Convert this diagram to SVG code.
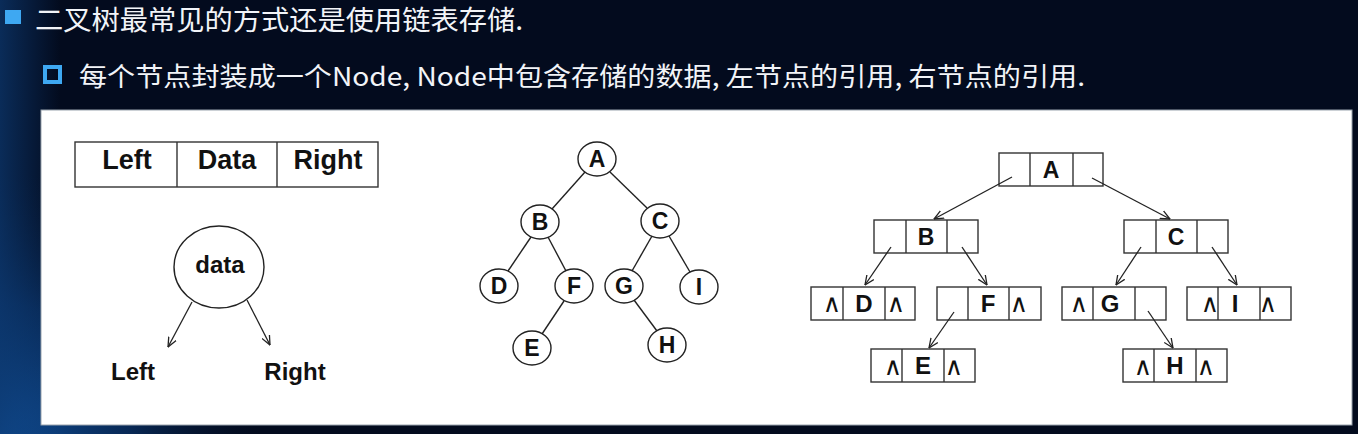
<svg xmlns="http://www.w3.org/2000/svg" width="1358" height="434" viewBox="0 0 1358 434">
<defs>
<radialGradient id="bgl" cx="0" cy="434" r="260" gradientUnits="userSpaceOnUse">
<stop offset="0" stop-color="#1258a8" stop-opacity="0.9"/>
<stop offset="0.5" stop-color="#0b3c7a" stop-opacity="0.6"/>
<stop offset="1" stop-color="#061a3a" stop-opacity="0"/>
</radialGradient>
<linearGradient id="bgs" x1="0" y1="0" x2="1" y2="0">
<stop offset="0" stop-color="#0d3a72" stop-opacity="0.7"/>
<stop offset="1" stop-color="#0d3a72" stop-opacity="0"/>
</linearGradient>
<marker id="ah" viewBox="0 0 10 10" refX="9.5" refY="5" markerWidth="10" markerHeight="10" markerUnits="userSpaceOnUse" orient="auto">
<path d="M0,0.8 L9.5,5 L0,9.2" fill="none" stroke="#222" stroke-width="1.3"/>
</marker>
</defs>
<style>
.hd{font-family:"Noto Sans CJK SC","Noto Sans",sans-serif;fill:#f2f4f8}
.b{font-family:"Liberation Sans",Arial,sans-serif;font-weight:bold;fill:#111}
.c{fill:#fff;stroke:#222;stroke-width:1.4}
.bx{fill:#fff;stroke:#333;stroke-width:1.4}
.dv{stroke:#333;stroke-width:1.4}
.e{stroke:#222;stroke-width:1.4;fill:none}
.ar{stroke:#222;stroke-width:1.3;fill:none;marker-end:url(#ah)}
.cr{font-family:"DejaVu Sans",sans-serif;font-size:25px;fill:#111;text-anchor:middle}
.m{text-anchor:middle}
</style>
<rect width="1358" height="434" fill="#030b1e"/>
<rect width="1358" height="434" fill="url(#bgl)"/>
<rect width="60" height="434" fill="url(#bgs)"/>

<g id="header">
<rect x="5" y="10" width="16" height="14" fill="#3ea8f2"/>
<text class="hd" x="35" y="30" font-size="27" textLength="488" lengthAdjust="spacingAndGlyphs">二叉树最常见的方式还是使用链表存储.</text>
<rect x="45" y="67" width="15" height="15" fill="none" stroke="#3ea8f2" stroke-width="4"/>
<text class="hd" x="79" y="86" font-size="26" textLength="1006" lengthAdjust="spacingAndGlyphs">每个节点封装成一个Node, Node中包含存储的数据, 左节点的引用, 右节点的引用.</text>
</g>

<rect id="panel" x="41" y="110" width="1311" height="315" fill="#fff" stroke="#9aa3ad" stroke-width="1"/>

<g id="nodeStruct">
<rect class="bx" x="75" y="142" width="303" height="45"/>
<line class="dv" x1="177" y1="142" x2="177" y2="187"/>
<line class="dv" x1="277" y1="142" x2="277" y2="187"/>
<text class="b m" x="127" y="169" font-size="27">Left</text>
<text class="b m" x="227" y="169" font-size="27">Data</text>
<text class="b m" x="328" y="169" font-size="27">Right</text>
</g>

<g id="dataNode">
<ellipse class="c" cx="219" cy="267" rx="45" ry="41"/>
<text class="b m" x="220" y="273" font-size="24">data</text>
</g>
<g id="leftLabel"><text class="b m" x="133" y="380" font-size="24">Left</text></g>
<g id="rightLabel"><text class="b m" x="295" y="380" font-size="24">Right</text></g>

<g id="treeA"><ellipse class="c" cx="597" cy="159" rx="19" ry="17"/><text class="b m" x="597" y="167" font-size="23">A</text></g>
<g id="treeB"><ellipse class="c" cx="540" cy="222" rx="19" ry="17"/><text class="b m" x="540" y="230" font-size="23">B</text></g>
<g id="treeC"><ellipse class="c" cx="660" cy="221" rx="19" ry="17"/><text class="b m" x="660" y="229" font-size="23">C</text></g>
<g id="treeD"><ellipse class="c" cx="499" cy="286" rx="19" ry="17"/><text class="b m" x="499" y="294" font-size="23">D</text></g>
<g id="treeF"><ellipse class="c" cx="574" cy="286" rx="19" ry="17"/><text class="b m" x="574" y="294" font-size="23">F</text></g>
<g id="treeG"><ellipse class="c" cx="624" cy="286" rx="19" ry="17"/><text class="b m" x="624" y="294" font-size="23">G</text></g>
<g id="treeI"><ellipse class="c" cx="699" cy="287" rx="19" ry="17"/><text class="b m" x="699" y="295" font-size="23">I</text></g>
<g id="treeE"><ellipse class="c" cx="532" cy="348" rx="19" ry="17"/><text class="b m" x="532" y="356" font-size="23">E</text></g>
<g id="treeH"><ellipse class="c" cx="667" cy="345" rx="19" ry="17"/><text class="b m" x="667" y="353" font-size="23">H</text></g>

<g id="listA"><rect class="bx" x="999" y="153" width="104" height="33"/><line class="dv" x1="1030" y1="153" x2="1030" y2="186"/><line class="dv" x1="1073" y1="153" x2="1073" y2="186"/><text class="b m" x="1051" y="178" font-size="23">A</text></g>
<g id="listB"><rect class="bx" x="874" y="220" width="104" height="33"/><line class="dv" x1="906" y1="220" x2="906" y2="253"/><line class="dv" x1="947" y1="220" x2="947" y2="253"/><text class="b m" x="926" y="245" font-size="23">B</text></g>
<g id="listC"><rect class="bx" x="1124" y="220" width="104" height="33"/><line class="dv" x1="1156" y1="220" x2="1156" y2="253"/><line class="dv" x1="1197" y1="220" x2="1197" y2="253"/><text class="b m" x="1176" y="245" font-size="23">C</text></g>
<g id="listD"><rect class="bx" x="811" y="287" width="104" height="33"/><line class="dv" x1="843" y1="287" x2="843" y2="320"/><line class="dv" x1="885" y1="287" x2="885" y2="320"/><text class="b m" x="864" y="312" font-size="24">D</text><text class="cr" x="832" y="312">∧</text><text class="cr" x="896" y="312">∧</text></g>
<g id="listF"><rect class="bx" x="937" y="287" width="104" height="33"/><line class="dv" x1="968" y1="287" x2="968" y2="320"/><line class="dv" x1="1009" y1="287" x2="1009" y2="320"/><text class="b m" x="988" y="312" font-size="24">F</text><text class="cr" x="1019" y="312">∧</text></g>
<g id="listG"><rect class="bx" x="1062" y="287" width="104" height="33"/><line class="dv" x1="1093" y1="287" x2="1093" y2="320"/><line class="dv" x1="1135" y1="287" x2="1135" y2="320"/><text class="b m" x="1110" y="312" font-size="24">G</text><text class="cr" x="1079" y="312">∧</text></g>
<g id="listI"><rect class="bx" x="1187" y="287" width="104" height="33"/><line class="dv" x1="1218" y1="287" x2="1218" y2="320"/><line class="dv" x1="1260" y1="287" x2="1260" y2="320"/><text class="b m" x="1235" y="312" font-size="24">I</text><text class="cr" x="1210" y="312">∧</text><text class="cr" x="1268" y="312">∧</text></g>
<g id="listE"><rect class="bx" x="871" y="349" width="104" height="33"/><line class="dv" x1="902" y1="349" x2="902" y2="382"/><line class="dv" x1="944" y1="349" x2="944" y2="382"/><text class="b m" x="923" y="374" font-size="24">E</text><text class="cr" x="893" y="375">∧</text><text class="cr" x="954" y="375">∧</text></g>
<g id="listH"><rect class="bx" x="1123" y="349" width="104" height="33"/><line class="dv" x1="1154" y1="349" x2="1154" y2="382"/><line class="dv" x1="1196" y1="349" x2="1196" y2="382"/><text class="b m" x="1175" y="374" font-size="24">H</text><text class="cr" x="1143" y="375">∧</text><text class="cr" x="1206" y="375">∧</text></g>

<g id="connectors">
<line class="ar" x1="192" y1="302" x2="168" y2="347"/>
<line class="ar" x1="247" y1="300" x2="270" y2="345"/>
<line class="e" x1="585" y1="172" x2="552" y2="209"/>
<line class="e" x1="610" y1="172" x2="647" y2="208"/>
<line class="e" x1="531" y1="237" x2="508" y2="271"/>
<line class="e" x1="548" y1="237" x2="566" y2="271"/>
<line class="e" x1="652" y1="236" x2="632" y2="271"/>
<line class="e" x1="669" y1="236" x2="690" y2="272"/>
<line class="e" x1="564" y1="301" x2="542" y2="334"/>
<line class="e" x1="634" y1="300" x2="657" y2="331"/>
<line class="ar" x1="1012" y1="177" x2="934" y2="219"/>
<line class="ar" x1="1092" y1="178" x2="1170" y2="219"/>
<line class="ar" x1="891" y1="247" x2="865" y2="285"/>
<line class="ar" x1="962" y1="247" x2="987" y2="285"/>
<line class="ar" x1="954" y1="312" x2="929" y2="348"/>
<line class="ar" x1="1141" y1="247" x2="1116" y2="285"/>
<line class="ar" x1="1212" y1="247" x2="1237" y2="285"/>
<line class="ar" x1="1148" y1="311" x2="1173" y2="348"/>
</g>
</svg>
